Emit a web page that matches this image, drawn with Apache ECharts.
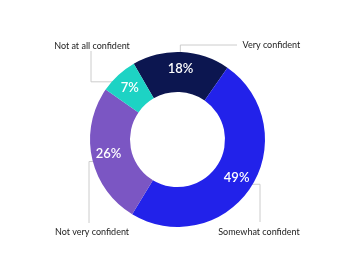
<!DOCTYPE html>
<html>
<head>
<meta charset="utf-8">
<script src="https://cdn.jsdelivr.net/npm/echarts@6/dist/echarts.min.js"></script>
<style>
html,body{margin:0;padding:0;background:#fff;}
#chart{width:355px;height:279px;}
</style>
</head>
<body>
<div id="chart"></div>
<script>
const categories = ['Very confident', 'Somewhat confident', 'Not very confident', 'Not at all confident'];
const values = [18, 49, 26, 7];
const colors = ['#0c1650', '#2222ea', '#7b56c3', '#1dd3c4'];

// leader line layout (relative to chart center), not data
const leaders = [
  { kind: 'up-right', endY: -94.5, endX: 59.5, labelX: 65, labelY: -94.5, align: 'left' },
  { kind: 'h-down', elbowX: 82.5, endY: 82.5, labelX: 81.5, labelY: 93, align: 'center' },
  { kind: 'h-down', elbowX: -88.5, endY: 83.5, labelX: -85.5, labelY: 93, align: 'center' },
  { kind: 'h-up', elbowX: -86.5, endY: -88.5, labelX: -85.5, labelY: -93.5, align: 'center' }
];

const chart = echarts.init(document.getElementById('chart'), null, { renderer: 'canvas' });
const startAngle = 120;
const rIn = 47.5, rOut = 87.5;
const total = values.reduce((a, b) => a + b, 0);

function midPoint(i, r) {
  let cum = 0;
  for (let k = 0; k < i; k++) cum += values[k];
  const clock = (90 - startAngle) + (cum + values[i] / 2) / total * 360;
  const a = clock * Math.PI / 180;
  return [chart.getWidth() / 2 + r * Math.sin(a), chart.getHeight() / 2 - r * Math.cos(a), Math.cos(a)];
}

const data = categories.map((c, i) => ({ name: c, value: values[i], itemStyle: { color: colors[i] } }));

chart.setOption({
  animation: false,
  series: [
    {
      type: 'pie',
      center: ['50%', '50%'],
      radius: [rIn, rOut],
      startAngle: startAngle,
      silent: true,
      label: {
        show: true,
        position: 'inside',
        formatter: '{c}%',
        color: '#ffffff',
        fontFamily: 'Lato',
        fontSize: 13,
        fontWeight: 600
      },
      labelLine: { show: false },
      data: data
    },
    {
      type: 'pie',
      center: ['50%', '50%'],
      radius: [rIn, rOut],
      startAngle: startAngle,
      silent: true,
      avoidLabelOverlap: false,
      itemStyle: { color: 'rgba(0,0,0,0)' },
      label: {
        show: true,
        position: 'outside',
        formatter: '{b}',
        color: '#222222',
        fontFamily: 'Lato',
        fontSize: 9
      },
      labelLine: { show: true, lineStyle: { color: '#cccccc', width: 1 } },
      labelLayout: function (params) {
        const i = params.dataIndex;
        const L = leaders[i];
        const cx = chart.getWidth() / 2, cy = chart.getHeight() / 2;
        const m = midPoint(i, (rIn + rOut) / 2);
        const sx = m[0], sy = m[1] + (m[2] > 0 ? -8 : 8);
        let pts;
        if (L.kind === 'up-right') {
          pts = [[sx, sy], [sx, cy + L.endY], [cx + L.endX, cy + L.endY]];
        } else {
          pts = [[sx, sy], [cx + L.elbowX, sy], [cx + L.elbowX, cy + L.endY]];
        }
        return {
          x: cx + L.labelX,
          y: cy + L.labelY,
          align: L.align,
          verticalAlign: 'middle',
          labelLinePoints: pts
        };
      },
      data: data.map(d => ({ name: d.name, value: d.value }))
    }
  ]
});
</script>
</body>
</html>
